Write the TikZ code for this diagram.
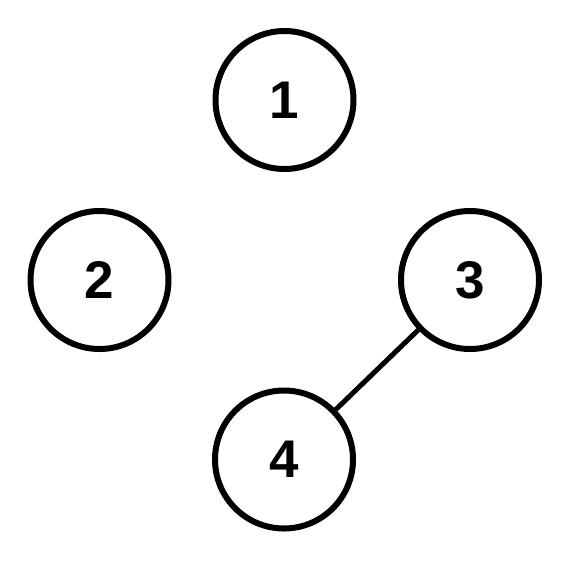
\documentclass[tikz,border=0pt]{standalone}
\usepackage{fontspec}
\setmainfont{Liberation Sans}
\begin{document}
\begin{tikzpicture}[x=1pt,y=-1pt,
  vert/.style={circle,draw=black,line width=6pt,minimum size=138pt,inner sep=0pt,
    font=\fontsize{53}{60}\selectfont\bfseries},
  edge/.style={line width=5pt}]
\useasboundingbox (0,0) rectangle (570,566);
\node[vert] (n1) at (284.5,100) {1};
\node[vert] (n2) at (99.5,280) {2};
\node[vert] (n3) at (470,280) {3};
\node[vert] (n4) at (284,459.5) {4};
\draw[edge] (n3) -- (n4);
\end{tikzpicture}
\end{document}
